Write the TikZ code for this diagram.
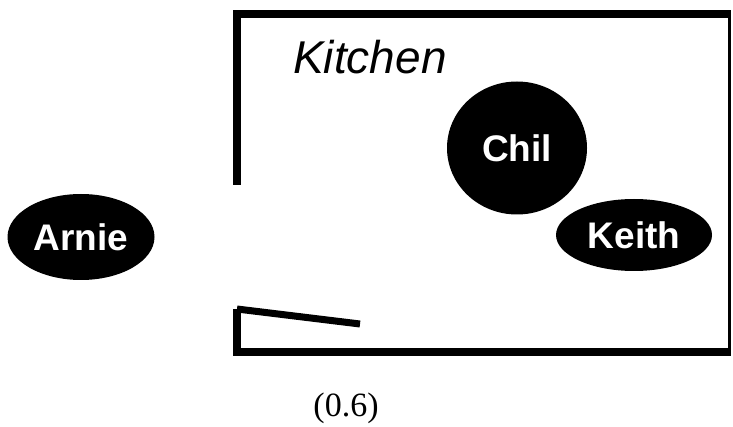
\documentclass[tikz,border=0pt]{standalone}
\usepackage{fontspec}
\setmainfont{Liberation Serif}
\newfontfamily\namefont{Liberation Sans}
\usetikzlibrary{shapes.geometric}
\tikzset{
  person/.style={ellipse, fill=black, text=white, inner sep=0pt,
    font=\namefont\bfseries\fontsize{37}{40}\selectfont},
  wall/.style={line width=8pt, line join=miter, line cap=butt},
  thinwall/.style={line width=3.5pt}
}
\begin{document}
\begin{tikzpicture}[x=1pt,y=-1pt]
\useasboundingbox (0,0) rectangle (733,427);
% walls
\draw[wall] (237,185) -- (237,14) -- (731,14);
\draw[thinwall] (729.5,14) -- (729.5,352);
\draw[wall] (237,309) -- (237,352) -- (731,352);
\draw[line width=7pt] (237,309) -- (360,324);
% label
\node[font=\namefont\itshape\fontsize{46}{50}\selectfont, anchor=base] (kitchen) at (370,74) {Kitchen};
% people
\node[person, minimum width=140pt, minimum height=133pt] (chil) at (517,148) {Chil};
\node[person, minimum width=156pt, minimum height=72pt] (keith) at (634,235) {Keith};
\node[person, minimum width=147pt, minimum height=86pt] (arnie) at (81,237) {Arnie};
% caption
\node[font=\fontsize{34}{38}\selectfont] (cap) at (346,408) {(0.6)};
\end{tikzpicture}
\end{document}
